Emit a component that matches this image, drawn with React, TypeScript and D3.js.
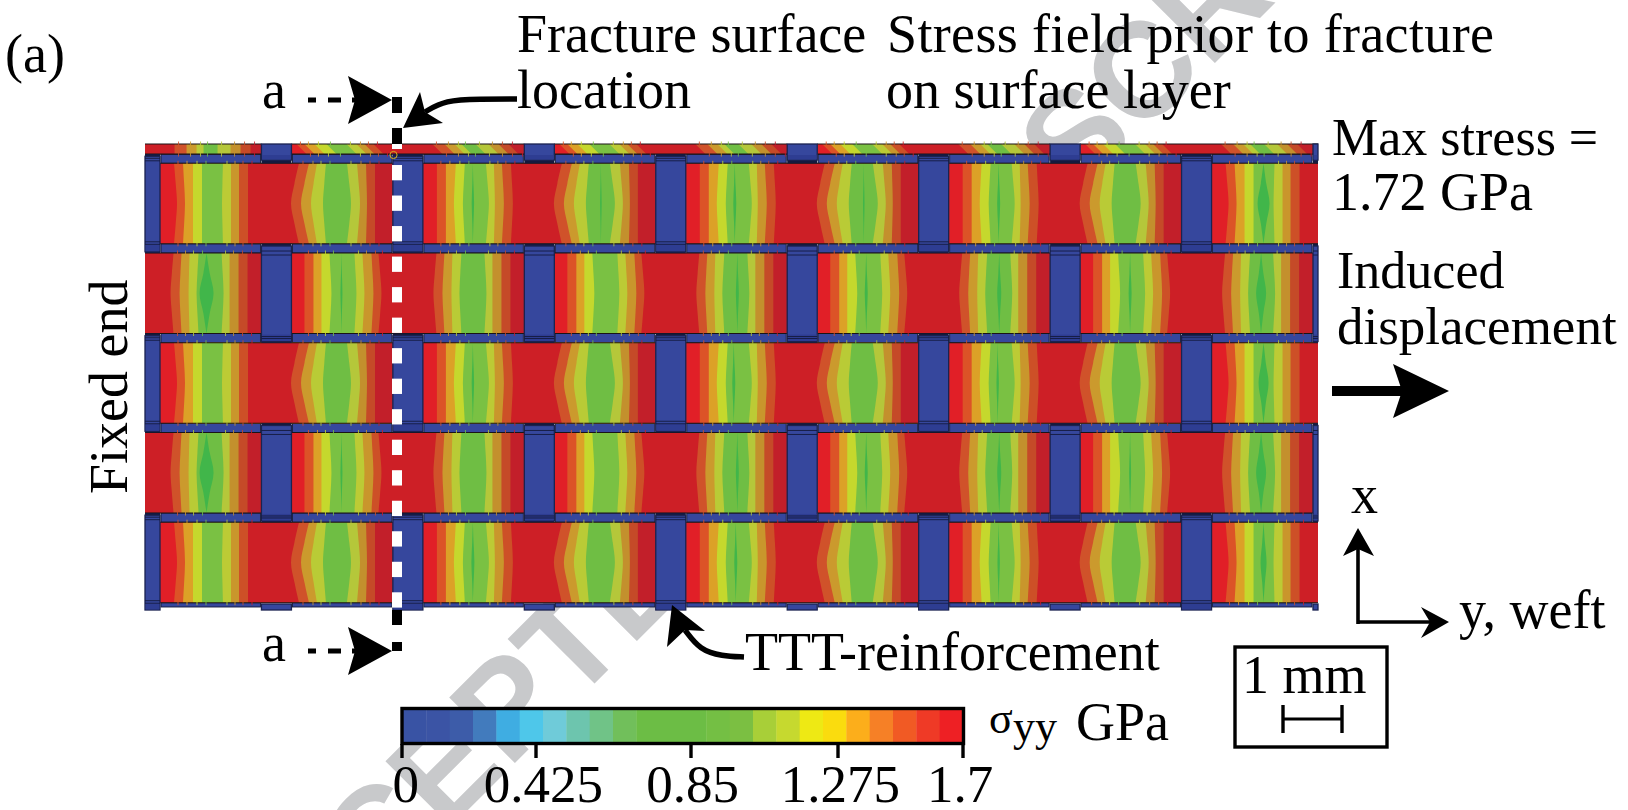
import React from "react";
import * as d3 from "d3";

// ---------- Data ----------
const colorbarColors = ["#3953a4","#3b54a5","#3d5ca9","#427bbd","#3fade2","#4ec7ea","#6fcbd9","#6dc5ae","#70c387","#71bf5b","#6cbd45","#6cbd45","#6cbd45","#74bf44","#7bbf42","#a8cf38","#c6d92f","#eee914","#fadc0e","#fcae1b","#f68026","#f15a24","#ef3a26","#ee2024"];
const colorbarTicks = [0, 0.425, 0.85, 1.275, 1.7];
const colorbarTickLabels = ["0", "0.425", "0.85", "1.275", "1.7"];
const colorbarLabelValues = [0.012, 0.445, 0.855, 1.283, 1.69];

// stress contour bands across one float, left to right
const bandColors = ["#e11f27","#dc5327","#dca127","#c5d82d","#7ac143","#bccb35","#c9962c","#cd5027","#cd1f26","#d0522a","#cb9a2d","#b9cb36","#6fbe44","#b5c73a","#c3902d","#c54a28","#c21f2a"];
// contour boundaries in float units (0..233): value at row edge, value at row middle
const oddEdge   = [14,23,33,42,63,71,79,88,139,149,157,166,187,197,206,215];
const oddMid    = [14,23,31,40,66,72,81,90,131,141,151,163,192,200,207,215];
const oddMidEnd = [17,25,33,42,62,71,79,88,131,141,151,163,191,200,207,215];
const evenEdge  = [13,22,30,38,63,71,80,87,145,153,161,170,193,201,210,219];
const evenMid   = [13,22,30,40,65,73,82,90,142,151,160,168,195,201,210,219];
const stripEdge = [10,18,28,40,60,70,78,87,146,158,168,175,189,202,212,222];

const rowIndexes = [-1, 0, 1, 2, 3, 4];
const columnIndexes = [0, 1, 2, 3, 4, 5, 6, 7, 8, 9];
// [row, left column of float, lobe centre in float units, half width of the peak-strain lens]
const lenses = [
  [0,2,50,1.2],[0,4,49,1.5],[0,6,50,1.5],[0,8,52,6],[0,4,178,0.8],[0,2,178,0.8],
  [1,-1,178,7],[1,1,50,1],[1,3,183,1.5],[1,5,49,1.5],[1,5,182,2],[1,7,50,1.5],[1,7,181,5],
  [2,2,50,1.2],[2,4,48,1.5],[2,6,49,1.2],[2,8,52,5],
  [3,-1,178,7],[3,1,50,1],[3,3,183,1.5],[3,5,49,1.5],[3,5,182,2],[3,7,50,1],[3,7,181,5],
  [4,2,50,1.5],[4,4,50,1.5],[4,6,50,1.2],[4,8,52,3],
];
const whiteDashIndex = [1,2,3,4,5,6,7,8,9,10,11,12,13,14,15];

// ---------- Scales ----------
const colX = d3.scaleLinear().domain([0, 9]).range([130, 1313]);
const colW = 30;
const rowY = d3.scaleLinear().domain([0, 4]).range([163.3, 522.2]);
const rowH = 80.5;
const floatX = d3.scaleLinear().domain([0, 233]).range([0, 233]);
const frac = [0, 0.25, 0.5, 0.75, 1];
const MAP_L = 145, MAP_R = 1318, MAP_T = 144, MAP_B = 610;
const barX = d3.scaleLinear().domain(colorbarTicks).range([402, 536, 691, 838, 963]);
const barBand = d3.scaleBand().domain(colorbarColors.map((_, i) => String(i))).range([403, 963]);
const dashY = d3.scaleLinear().domain([0, 15]).range([134.5, 592.3]);
const fieldColor = d3.scaleOrdinal<number, string>().domain(bandColors.map((_, i) => i)).range(bandColors);

const BLUE = "#36479d";
const FONT = "'Liberation Serif', 'Times New Roman', serif";

function clampX(x: number, a: number, b: number) { return Math.max(a, Math.min(b, x)); }

function boundaryAt(edge: number[], mid: number[], i: number, f: number, slant: number) {
  const t = Math.pow(Math.abs(f - 0.5) * 2, 1.2);
  return edge[i] * t + mid[i] * (1 - t) + slant * (0.5 - f) * 2;
}

function Float({ k, c }: { k: number; c: number }) {
  const odd = k % 2 === 0;
  const left = colX(c) + colW;
  const a = clampX(left, MAP_L, MAP_R);
  const b = clampX(colX(c + 2), MAP_L, odd ? MAP_R : colX(9));
  const top = k === -1 ? MAP_T : rowY(k);
  const bottom = rowY(k) + rowH;
  const edge = k === -1 ? stripEdge : odd ? oddEdge : evenEdge;
  const mid = k === -1 ? stripEdge : odd ? (c === 0 || c === 8 ? oddMidEnd : oddMid) : evenMid;
  const slant = k === -1 && c > 0 ? -5 : 0;
  const yOf = (f: number) => top + f * (bottom - top);
  const xb = (i: number, f: number) => clampX(left + floatX(boundaryAt(edge, mid, i, f, slant)), a, b);
  const area = (i: number) =>
    d3.area<number>()
      .y(f => yOf(f))
      .x0(f => xb(i, f))
      .x1(() => b)
      .curve(d3.curveCatmullRom)(frac) || "";
  const lens = lenses.filter(l => l[0] === k && l[1] === c);
  return (
    <g>
      <rect x={a} y={top} width={Math.max(0, b - a)} height={bottom - top} fill={fieldColor(0)} />
      {edge.map((_, i) => <path key={i} d={area(i)} fill={fieldColor(i + 1)} />)}
      {lens.map((l, i) => {
        const hw = [0, 0.45, 1, 0.45, 0];
        const cx = left + floatX(l[2]);
        const d = d3.area<number>().y(f => yOf(f))
          .x0((f, j) => clampX(cx - l[3] * hw[j], a, b))
          .x1((f, j) => clampX(cx + l[3] * hw[j], a, b))
          .curve(d3.curveCatmullRom)(frac) || "";
        return <path key={i} d={d} fill="#41b64a" />;
      })}
      <line x1={a} x2={b} y1={top} y2={top} stroke="#1a1416" strokeWidth={1.1} />
      <line x1={a} x2={b} y1={bottom} y2={bottom} stroke="#1a1416" strokeWidth={1.1} />
      {edge.map((_, i) => {
        const x0 = xb(i, 0), x1 = xb(i, 1);
        return (
          <g key={`s${i}`} stroke={fieldColor(i + 1)} strokeWidth={1} opacity={0.85}>
            {x0 > a + 1 && x0 < b - 1 && <line x1={x0 + 4} x2={x0 + 4} y1={top - 2.5} y2={top + 1} />}
            {x1 > a + 1 && x1 < b - 1 && <line x1={x1 + 4} x2={x1 + 4} y1={bottom - 1} y2={bottom + 2.5} />}
          </g>
        );
      })}
    </g>
  );
}

function Tile({ k, c }: { k: number; c: number }) {
  const x0 = clampX(colX(c), MAP_L, MAP_R), x1 = clampX(colX(c) + colW, MAP_L, MAP_R);
  const rt = rowY(k), rb = rt + rowH;
  const stub = k === 5;
  const top = stub ? MAP_B - 6 : k === -1 ? MAP_T : rt - 7;
  const bottom = stub ? MAP_B : k === -1 ? rb + 6 : Math.min(rb + 8, MAP_B);
  const even = k % 2 === 0;
  const lineTop = even ? [rt - 5, rt - 2.5] : [rt - 2, rt + 2];
  const lineBot = even ? [rb - 2, rb + 0.5] : [rb + 3, rb + 5];
  const backTop = k === -1 ? MAP_T : rt - 9.3;
  const backBottom = k >= 4 ? bottom : rb + 9.3;
  return (
    <g>
      {!stub && <rect x={x0} y={backTop} width={x1 - x0} height={backBottom - backTop} fill="#141a3e" />}
      <rect x={x0} y={top} width={x1 - x0} height={bottom - top} fill={BLUE} stroke="#1b2350" strokeWidth={1.3} />
      {!stub && <rect x={x0 + 0.7} y={rb + 1} width={x1 - x0 - 1.4} height={bottom - rb - 1.6} fill="#2e3d92" />}
      {!stub && k !== -1 && lineTop.map(y => <line key={y} x1={x0} x2={x1} y1={y} y2={y} stroke="#141a3e" strokeWidth={0.9} />)}
      {!stub && k !== -1 && lineBot.map(y => <line key={y} x1={x0} x2={x1} y1={y} y2={y} stroke="#141a3e" strokeWidth={0.9} />)}
    </g>
  );
}

function stealth(tip: [number, number], a: [number, number], notch: [number, number], b: [number, number]) {
  return d3.line()([tip, a, notch, b]) + "Z";
}

function HArrowDashes({ y }: { y: number }) {
  return (
    <g>
      <rect x={308} y={y - 2.5} width={8} height={5} fill="#000" />
      <rect x={328} y={y - 2.5} width={13} height={5} fill="#000" />
      <rect x={352} y={y - 2.5} width={13} height={5} fill="#000" />
      <path d={stealth([392, y], [348, y - 24], [355, y], [348, y + 24])} fill="#000" />
    </g>
  );
}

const curve = d3.line().curve(d3.curveBasis);

export default function App() {
  const floats: [number, number][] = [];
  const tiles: [number, number][] = [];
  rowIndexes.forEach(k => {
    const start = k % 2 === 0 ? 0 : -1;
    for (let c = start; c <= 9; c += 2) floats.push([k, c]);
    const tstart = k % 2 === 0 ? 0 : 1;
    for (let c = tstart; c <= 9; c += 2) tiles.push([k, c]);
  });
  for (let c = 1; c <= 9; c += 2) tiles.push([5, c]);

  const text = { fontFamily: FONT, fontSize: 54, fill: "#000" };

  return (
    <svg width={1628} height={810} style={{ position: "absolute", left: 0, top: 0, background: "#fff" }}>
      <text transform="translate(238,1040) rotate(-45)" fontFamily="'Liberation Sans', Arial, sans-serif" fontWeight="bold" fontSize={135} fill="#c8c9cb">ACCEPTED MANUSCRIPT</text>

      {/* Horizontal weft bands */}
      <g>
        {rowIndexes.map(k => {
          const y0 = rowY(k) + rowH;
          const y1 = k === 4 ? MAP_B - 3 : rowY(k + 1);
          return columnIndexes.slice(0, 9).map(c => (
            <rect key={`${k}-${c}`} x={clampX(colX(c) + colW + 1, MAP_L, MAP_R)} y={y0} width={colX(c + 1) - colX(c) - colW - 2} height={y1 - y0}
              fill={BLUE} stroke="#14193a" strokeWidth={0.9} />
          ));
        })}
      </g>

      {floats.map(([k, c]) => <Float key={`${k}:${c}`} k={k} c={c} />)}
      {tiles.map(([k, c]) => <Tile key={`${k}/${c}`} k={k} c={c} />)}

      {/* Section line a–a */}
      <rect x={392} y={97} width={10} height={16} fill="#000" />
      <rect x={392} y={128} width={10} height={16} fill="#000" />
      <rect x={392} y={144} width={10} height={5} fill="#fff" />
      {whiteDashIndex.map(i => <rect key={i} x={392} y={dashY(i) + 0} width={10} height={15.3} fill="#fff" />)}
      <rect x={392} y={610} width={10} height={15} fill="#000" />
      <rect x={392} y={642} width={10} height={9} fill="#000" />
      <circle cx={393.5} cy={155} r={3.6} fill="none" stroke="#d8b01c" strokeWidth={1} />
      <HArrowDashes y={100} />
      <HArrowDashes y={651} />
      <text {...text} x={262} y={108}>a</text>
      <text {...text} x={262} y={661}>a</text>

      {/* Fracture arrow */}
      <path d={curve([[425, 112], [445, 100], [480, 99], [517, 99]]) || ""} fill="none" stroke="#000" strokeWidth={5.5} />
      <path d={stealth([403, 128], [420, 92], [425, 112], [443, 123])} fill="#000" />

      {/* TTT arrow */}
      <path d={curve([[685, 630], [700, 650], [722, 656], [744, 657]]) || ""} fill="none" stroke="#000" strokeWidth={5.5} />
      <path d={stealth([672, 605], [667, 647], [685, 630], [705, 631])} fill="#000" />

      {/* Annotations */}
      <text {...text} x={5} y={72}>(a)</text>
      <text {...text} x={517} y={52}>Fracture surface</text>
      <text {...text} x={517} y={108}>location</text>
      <text {...text} x={887} y={52} letterSpacing={0.35}>Stress field prior to fracture</text>
      <text {...text} x={886} y={108}>on surface layer</text>
      <text {...text} x={1332} y={155} fontSize={52}>Max stress =</text>
      <text {...text} x={1332} y={210}>1.72 GPa</text>
      <text {...text} x={1337} y={288} fontSize={52}>Induced</text>
      <text {...text} x={1337} y={344} fontSize={53}>displacement</text>
      <text {...text} transform="translate(127,494) rotate(-90)">Fixed end</text>
      <text {...text} x={745} y={670}>TTT-reinforcement</text>

      {/* Induced displacement arrow */}
      <rect x={1332} y={386} width={70} height={10} fill="#000" />
      <path d={stealth([1449, 391], [1393, 364], [1402, 391], [1393, 418])} fill="#000" />

      {/* Axes triad */}
      <line x1={1358} x2={1358} y1={624} y2={548} stroke="#000" strokeWidth={3.6} />
      <line x1={1358} x2={1432} y1={622} y2={622} stroke="#000" strokeWidth={3.6} />
      <path d={stealth([1358, 528], [1343, 556], [1358, 549], [1374, 556])} fill="#000" />
      <path d={stealth([1449, 622], [1421, 607], [1430, 622], [1421, 638])} fill="#000" />
      <text {...text} x={1351} y={513}>x</text>
      <text {...text} x={1459} y={628}>y, weft</text>

      {/* Scale bar */}
      <rect x={1235} y={647} width={152} height={100} fill="none" stroke="#000" strokeWidth={3.4} />
      <text {...text} x={1242} y={693}>1 mm</text>
      <line x1={1283} x2={1342} y1={719} y2={719} stroke="#000" strokeWidth={3} />
      <line x1={1283} x2={1283} y1={705} y2={733} stroke="#000" strokeWidth={3.4} />
      <line x1={1342} x2={1342} y1={705} y2={733} stroke="#000" strokeWidth={3.4} />

      {/* Colorbar */}
      {colorbarColors.map((col, i) => (
        <rect key={i} x={barBand(String(i))} y={708} width={barBand.bandwidth() + 0.4} height={36} fill={col} />
      ))}
      <rect x={402} y={708.5} width={561.5} height={35} fill="none" stroke="#000" strokeWidth={3.4} />
      {colorbarTicks.map(t => <line key={t} x1={barX(t)} x2={barX(t)} y1={744} y2={758} stroke="#000" strokeWidth={3.4} />)}
      {colorbarTicks.map((t, i) => (
        <text key={t} {...text} fontSize={53} x={barX(colorbarLabelValues[i])} y={802} textAnchor="middle">{colorbarTickLabels[i]}</text>
      ))}
      <text {...text} fontSize={44} x={989} y={733}>σ</text>
      <text {...text} fontSize={44} x={1013} y={741}>yy</text>
      <text {...text} x={1076} y={740}>GPa</text>
    </svg>
  );
}
